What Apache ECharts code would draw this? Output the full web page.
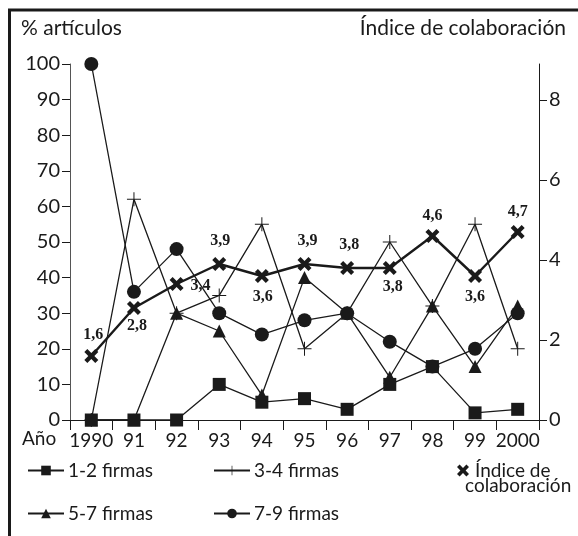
<!DOCTYPE html>
<html>
<head>
<meta charset="utf-8">
<script src="https://cdn.jsdelivr.net/npm/echarts@6/dist/echarts.min.js"></script>
<style>
  html, body { margin: 0; padding: 0; background: #fff; }
  #chart { width: 578px; height: 536px; }
</style>
</head>
<body>
<div id="chart"></div>
<script>
// data
const years = ["1990", "91", "92", "93", "94", "95", "96", "97", "98", "99", "2000"];
const firmas12 = [0, 0, 0, 10, 5, 6, 3, 10, 15, 2, 3];
const firmas34 = [0, 62, 30, 35, 55, 20, 30, 50, 32, 55, 20];
const firmas57 = [0, 0, 30, 25, 7, 40, 30, 12, 32, 15, 32];
const firmas79 = [100, 36, 48, 30, 24, 28, 30, 22, 15, 20, 30];
const indice = [1.6, 2.8, 3.4, 3.9, 3.6, 3.9, 3.8, 3.8, 4.6, 3.6, 4.7];
const indiceTicks = [0, 2, 4, 6, 8];

// where each index label sits relative to its marker (px)
const labelOffsets = [[2, -21], [3, 18], [24, 2], [1, -23], [1, 21], [3, -23], [2, -23], [3, 19], [0, -20], [0, 21], [0, -20]];

const FONT = "Lato";
const INK = "#1a1a1a";
const NAME_IDX = "Índice de colaboración";

const plusPath = "path://M0,6.5H14V7.5H0Z M6.5,0H7.5V14H6.5Z";
const crossPath = "path://M2.6,0L6,3.4L9.4,0L12,2.6L8.6,6L12,9.4L9.4,12L6,8.6L2.6,12L0,9.4L3.4,6L0,2.6Z";

const chart = echarts.init(document.getElementById("chart"));

const lineSeries = (name, data, symbol, size) => ({
  name,
  type: "line",
  data,
  symbol,
  symbolSize: size,
  showAllSymbol: true,
  lineStyle: { color: INK, width: 1.3 },
  itemStyle: { color: INK, borderWidth: 0 },
  emphasis: { disabled: true }
});

const legendAt = (name, left, top) => ({
  data: [name],
  left,
  top,
  itemWidth: 36,
  itemHeight: 12,
  itemGap: 0,
  selectedMode: false,
  textStyle: { fontFamily: FONT, fontSize: 19, color: INK, padding: [0, 0, 0, -1] }
});

chart.setOption({
  animation: false,
  backgroundColor: "#fff",
  grid: { left: 70, right: 39, top: 64, bottom: 116 },
  xAxis: {
    type: "category",
    data: years,
    boundaryGap: true,
    axisLine: { lineStyle: { color: INK, width: 1 } },
    axisTick: { show: true, length: 10, lineStyle: { color: INK } },
    axisLabel: { fontFamily: FONT, fontSize: 19, color: INK, margin: 11, interval: 0 }
  },
  yAxis: [
    {
      type: "value",
      min: 0,
      max: 100,
      interval: 10,
      position: "left",
      splitLine: { show: false },
      axisLine: { show: true, lineStyle: { color: "#555", width: 1 } },
      axisTick: { show: true, length: 8, lineStyle: { color: INK } },
      axisLabel: { fontFamily: FONT, fontSize: 20, color: INK, margin: 10 }
    },
    {
      type: "value",
      min: 0,
      max: 8.9,
      interval: 2,
      position: "right",
      splitLine: { show: false },
      axisLine: { show: true, lineStyle: { color: INK, width: 1 } },
      axisTick: { show: true, length: 8, customValues: indiceTicks, lineStyle: { color: INK } },
      axisLabel: { fontFamily: FONT, fontSize: 20, color: INK, margin: 10, customValues: indiceTicks }
    }
  ],
  legend: [
    legendAt("1-2 firmas", 22, 456),
    legendAt("3-4 firmas", 208, 456),
    legendAt("5-7 firmas", 22, 499),
    legendAt("7-9 firmas", 208, 499),
    {
      data: [{ name: NAME_IDX, icon: crossPath }],
      left: 452,
      top: 456,
      itemWidth: 12,
      itemHeight: 12,
      itemGap: 0,
      selectedMode: false,
      formatter: () => "Índice de",
      textStyle: { fontFamily: FONT, fontSize: 19, color: INK, padding: [0, 0, 0, 1] }
    }
  ],
  graphic: [
    { type: "line", shape: { x1: 8, y1: 10, x2: 578, y2: 10 }, style: { stroke: INK, lineWidth: 3 } },
    { type: "line", shape: { x1: 9.5, y1: 9, x2: 9.5, y2: 536 }, style: { stroke: INK, lineWidth: 3 } },
    { type: "text", left: 21, top: 18, style: { text: "% artículos", font: `21px ${FONT}`, fill: INK } },
    { type: "text", right: 12, top: 18, style: { text: NAME_IDX, font: `21px ${FONT}`, fill: INK } },
    { type: "text", left: 22, top: 429, style: { text: "Año", font: `19px ${FONT}`, fill: INK } },
    { type: "text", left: 465, top: 476, style: { text: "colaboración", font: `19px ${FONT}`, fill: INK } }
  ],
  series: [
    lineSeries("5-7 firmas", firmas57, "triangle", 13),
    lineSeries("3-4 firmas", firmas34, plusPath, 14),
    lineSeries("7-9 firmas", firmas79, "circle", 14),
    lineSeries("1-2 firmas", firmas12, "rect", 13),
    {
      name: NAME_IDX,
      type: "line",
      yAxisIndex: 1,
      data: indice.map((v, i) => ({
        value: v,
        label: { offset: labelOffsets[i] }
      })),
      symbol: crossPath,
      symbolSize: 14,
      lineStyle: { color: INK, width: 2.4 },
      itemStyle: { color: INK },
      emphasis: { disabled: true },
      label: {
        show: true,
        position: "inside",
        fontFamily: "Liberation Serif",
        fontWeight: "bold",
        fontSize: 16,
        color: INK,
        formatter: (p) => String(p.value).replace(".", ",")
      },
      z: 3
    }
  ]
});
</script>
</body>
</html>
